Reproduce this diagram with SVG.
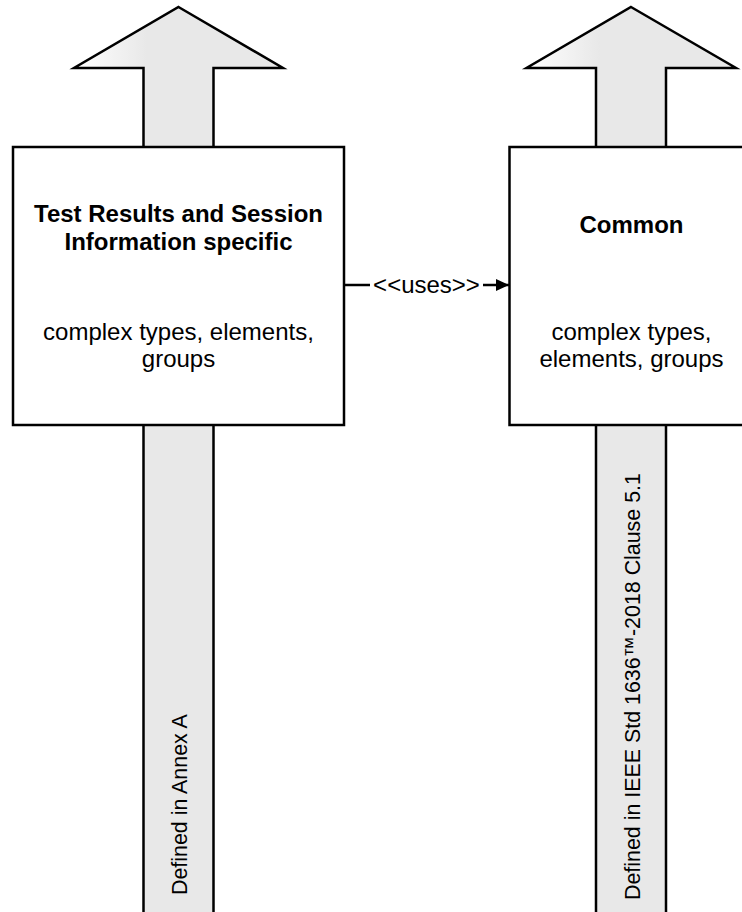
<svg xmlns="http://www.w3.org/2000/svg" width="742" height="912" viewBox="0 0 742 912">
<style>
.arrow{stroke:#000;stroke-width:2.5;stroke-linejoin:miter;fill:url(#g)}
.box{fill:#fff;stroke:#000;stroke-width:2.5}
.t{font-family:"Liberation Sans",Arial,sans-serif;font-size:24px;fill:#000;text-anchor:middle}
.b{font-weight:bold}
.v{font-family:"Liberation Sans",Arial,sans-serif;font-size:21.4px;fill:#000}
.conn{stroke:#000;stroke-width:2.5;fill:none}
</style>
<defs>
<linearGradient id="g" x1="0" y1="0" x2="1" y2="0">
<stop offset="0" stop-color="#ffffff"/>
<stop offset="0.35" stop-color="#e8e8e8"/>
<stop offset="1" stop-color="#e8e8e8"/>
</linearGradient>
<marker id="ah" markerWidth="13" markerHeight="12" refX="13" refY="6" orient="auto" markerUnits="userSpaceOnUse">
<path d="M0,0 L13,6 L0,12 Z" fill="#000"/>
</marker>
</defs>
<g id="left">
<polygon class="arrow" points="178.5,7 283,68 213.5,68 213.5,916 143.5,916 143.5,68 74,68"/>
<rect class="box" x="13" y="147" width="331" height="278"/>
<text class="t b" x="178.5" y="222">Test Results and Session</text>
<text class="t b" x="178.5" y="250">Information specific</text>
<text class="t" x="178.5" y="340">complex types, elements,</text>
<text class="t" x="178.5" y="367">groups</text>
<text class="v" transform="translate(187,895) rotate(-90)">Defined in Annex A</text>
</g>
<g id="right">
<polygon class="arrow" points="631,7 736,68 666,68 666,916 596,916 596,68 526.5,68"/>
<rect class="box" x="509.5" y="147" width="260" height="278"/>
<text class="t b" x="631.5" y="233">Common</text>
<text class="t" x="631.5" y="340">complex types,</text>
<text class="t" x="631.5" y="367">elements, groups</text>
<text class="v" transform="translate(640,900) rotate(-90)">Defined in IEEE Std 1636™-2018 Clause 5.1</text>
</g>
<g id="connectors">
<line class="conn" x1="344" y1="285" x2="370" y2="285"/>
<line class="conn" x1="483" y1="285" x2="509" y2="285" marker-end="url(#ah)"/>
<text class="t" x="426.5" y="293">&lt;&lt;uses&gt;&gt;</text>
</g>
</svg>
